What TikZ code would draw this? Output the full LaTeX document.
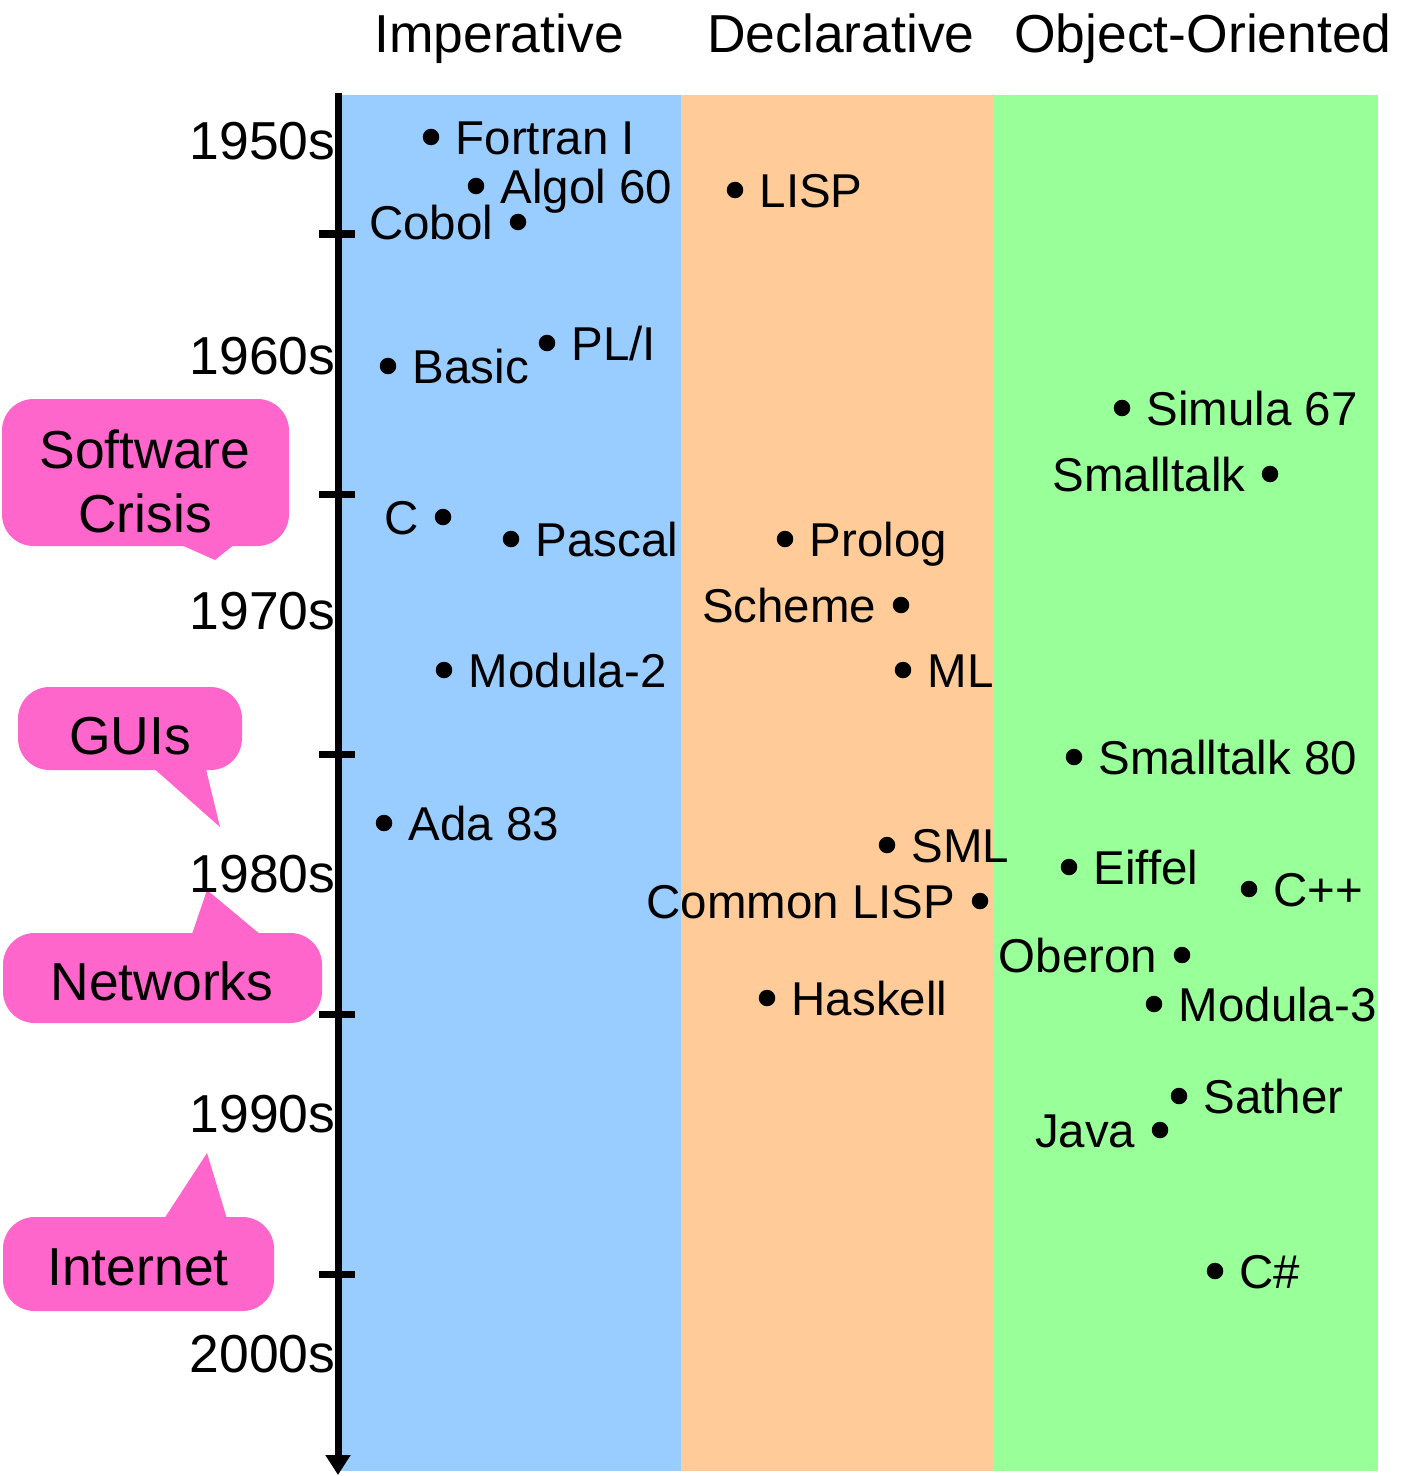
\documentclass[tikz,border=0pt]{standalone}
\usepackage{fontspec}
\setmainfont{Liberation Sans}
\usetikzlibrary{positioning,arrows.meta}
\definecolor{impblue}{HTML}{99CCFF}
\definecolor{decorange}{HTML}{FFCC99}
\definecolor{oogreen}{HTML}{99FF99}
\definecolor{bubblepink}{HTML}{FF66CC}
\begin{document}
\begin{tikzpicture}[x=0.01cm, y=-0.01cm,
  head/.style = {font=\fontsize{15.2}{18}\selectfont, inner sep=0pt, text height=0.38cm, text depth=0pt},
  decade/.style = {head, anchor=east},
  lang/.style = {font=\fontsize{13.5}{16}\selectfont, inner sep=0pt, text height=0.34cm, text depth=0pt},
  dot/.style = {circle, fill=black, inner sep=0pt, minimum size=0.165cm},
  bubble/.style = {fill=bubblepink, rounded corners=9pt},
  axis/.style = {line width=0.07cm, -{Triangle[width=0.24cm,length=0.2cm]}},
  tick/.style = {line width=0.07cm}]
\useasboundingbox (0,0) rectangle (1401,1476);

% paradigm bands
\fill[impblue]   (341,95) rectangle (681,1471);
\fill[decorange] (681,95) rectangle (993,1471);
\fill[oogreen]   (993,95) rectangle (1378,1471);

\node[head] (imp) at (499,33)  {Imperative};
\node[head] (dec) at (841,33)  {Declarative};
\node[head] (oo)  at (1203,33) {Object-Oriented};

% callouts
\fill[bubble] (2,399) rectangle (289,546);
\fill[bubblepink] (170,540) -- (215,560) -- (240,540) -- cycle;
\node[head] (crisis1) at (145,449) {Software};
\node[head] (crisis2) at (145,513) {Crisis};

\fill[bubble] (18,687) rectangle (242,770);
\fill[bubblepink] (150,765) -- (220,827) -- (205,765) -- cycle;
\node[head] (guis) at (130,735) {GUIs};

\fill[bubble] (3,933) rectangle (322,1023);
\fill[bubblepink] (190,940) -- (207,890) -- (267,940) -- cycle;
\node[head] (networks) at (162,981) {Networks};

\fill[bubble] (3,1217) rectangle (274,1311);
\fill[bubblepink] (162,1222) -- (207,1153) -- (228,1222) -- cycle;
\node[head] (internet) at (138,1266) {Internet};

% time axis
\coordinate (top) at (338,93);
\coordinate (bottom) at (338,1475);
\draw[axis] (top) -- (bottom);
\foreach \y in {234,494,754,1014,1274}
  \draw[tick] (319,\y) -- (355,\y);

\node[decade] (d50) at (336,140)  {1950s};
\node[decade] (d60) at (336,355)  {1960s};
\node[decade] (d70) at (336,610)  {1970s};
\node[decade] (d80) at (336,873)  {1980s};
\node[decade] (d90) at (336,1113) {1990s};
\node[decade] (d00) at (336,1353) {2000s};

% imperative
\node[dot] (fortran) at (431,137) {};
\node[lang] (fortranL) [right=0.15cm of fortran] {Fortran I};
\node[dot] (algol) at (476,186) {};
\node[lang] (algolL) [right=0.15cm of algol] {Algol 60};
\node[dot] (cobol) at (518,222) {};
\node[lang] (cobolL) [left=0.15cm of cobol] {Cobol};
\node[dot] (pli) at (547,343) {};
\node[lang] (pliL) [right=0.15cm of pli] {PL/I};
\node[dot] (basic) at (388,366) {};
\node[lang] (basicL) [right=0.15cm of basic] {Basic};
\node[dot] (c) at (443,517) {};
\node[lang] (cL) [left=0.15cm of c] {C};
\node[dot] (pascal) at (511,539) {};
\node[lang] (pascalL) [right=0.15cm of pascal] {Pascal};
\node[dot] (modula2) at (444,670) {};
\node[lang] (modula2L) [right=0.15cm of modula2] {Modula-2};
\node[dot] (ada) at (384,823) {};
\node[lang] (adaL) [right=0.15cm of ada] {Ada 83};

% declarative
\node[dot] (lisp) at (735,190) {};
\node[lang] (lispL) [right=0.15cm of lisp] {LISP};
\node[dot] (prolog) at (785,539) {};
\node[lang] (prologL) [right=0.15cm of prolog] {Prolog};
\node[dot] (scheme) at (901,605) {};
\node[lang] (schemeL) [left=0.15cm of scheme] {Scheme};
\node[dot] (ml) at (903,670) {};
\node[lang] (mlL) [right=0.15cm of ml] {ML};
\node[dot] (sml) at (887,845) {};
\node[lang] (smlL) [right=0.15cm of sml] {SML};
\node[dot] (clisp) at (980,901) {};
\node[lang] (clispL) [left=0.15cm of clisp] {Common LISP};
\node[dot] (haskell) at (767,998) {};
\node[lang] (haskellL) [right=0.15cm of haskell] {Haskell};

% object-oriented
\node[dot] (simula) at (1122,408) {};
\node[lang] (simulaL) [right=0.15cm of simula] {Simula 67};
\node[dot] (smalltalk) at (1270,474) {};
\node[lang] (smalltalkL) [left=0.15cm of smalltalk] {Smalltalk};
\node[dot] (st80) at (1074,757) {};
\node[lang] (st80L) [right=0.15cm of st80] {Smalltalk 80};
\node[dot] (eiffel) at (1069,867) {};
\node[lang] (eiffelL) [right=0.15cm of eiffel] {Eiffel};
\node[dot] (cpp) at (1249,889) {};
\node[lang] (cppL) [right=0.15cm of cpp] {C++};
\node[dot] (oberon) at (1182,955) {};
\node[lang] (oberonL) [left=0.15cm of oberon] {Oberon};
\node[dot] (modula3) at (1154,1004) {};
\node[lang] (modula3L) [right=0.15cm of modula3] {Modula-3};
\node[dot] (sather) at (1179,1096) {};
\node[lang] (satherL) [right=0.15cm of sather] {Sather};
\node[dot] (java) at (1160,1130) {};
\node[lang] (javaL) [left=0.15cm of java] {Java};
\node[dot] (csharp) at (1215,1271) {};
\node[lang] (csharpL) [right=0.15cm of csharp] {C\#};

\end{tikzpicture}
\end{document}
